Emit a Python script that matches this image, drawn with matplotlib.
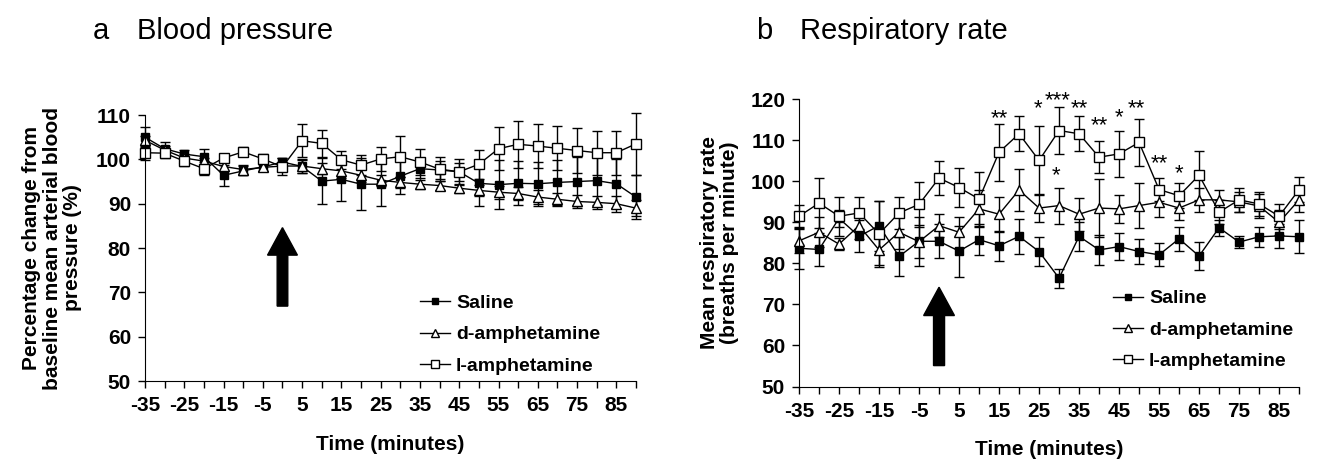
import matplotlib.pyplot as plt
import numpy as np

plt.rcParams['font.family'] = ['Liberation Sans', 'DejaVu Sans']

# Time points (minutes)
time = np.arange(-35, 95, 5)
series_names = ['Saline', 'd-amphetamine', 'l-amphetamine']

# a  Blood pressure (% of baseline)
bp_saline = [105.0, 102.4, 101.2, 100.6, 96.4, 97.4, 98.3, 99.4, 98.4, 95.1, 95.5, 94.4, 94.4,
             96.2, 97.9, 97.6, 97.2, 94.6, 94.3, 94.6, 94.5, 94.8, 95.0, 95.2, 94.5, 91.5]
bp_saline_err = [2.3, 1.5, 1.0, 1.7, 2.3, 1.0, 1.0, 1.0, 1.5, 5.2, 5.0, 5.8, 5.0,
                 3.9, 2.0, 2.0, 2.0, 5.2, 5.5, 5.0, 5.0, 5.0, 5.5, 5.5, 5.5, 5.0]
bp_d = [104.3, 102.1, 100.3, 99.6, 98.4, 97.7, 98.2, 98.5, 98.5, 97.9, 97.4, 96.4, 95.3,
        94.8, 94.4, 94.1, 93.5, 93.0, 92.6, 92.3, 91.5, 91.0, 90.5, 90.3, 90.0, 89.0]
bp_d_err = [1.0, 1.0, 0.8, 0.8, 1.0, 1.0, 0.8, 1.0, 1.5, 1.2, 1.5, 1.5, 1.2,
            1.2, 1.0, 1.0, 1.0, 1.2, 1.5, 1.5, 1.5, 1.5, 1.5, 1.5, 1.8, 1.8]
bp_l = [101.5, 101.4, 99.6, 97.9, 100.3, 101.7, 100.1, 98.3, 104.2, 103.6, 99.9, 98.7, 100.1,
        100.6, 99.4, 97.8, 97.2, 98.9, 102.4, 103.4, 103.0, 102.5, 102.0, 101.5, 101.5, 103.5]
bp_l_err = [1.6, 1.0, 1.0, 1.5, 1.0, 1.0, 1.0, 1.9, 3.7, 3.1, 2.1, 2.3, 2.8,
            4.6, 3.0, 2.7, 2.9, 3.3, 4.8, 5.3, 5.0, 5.0, 5.0, 5.0, 5.0, 7.0]

# b  Respiratory rate (breaths per minute)
rr_saline = [83.7, 83.4, 91.0, 86.6, 89.2, 81.7, 85.4, 85.4, 83.0, 85.8, 84.3, 86.6, 82.9,
             76.4, 86.6, 83.3, 84.1, 82.9, 82.1, 86.0, 81.8, 88.7, 85.2, 86.5, 86.7, 86.5]
rr_saline_err = [5.1, 4.1, 2.0, 3.9, 6.1, 4.7, 6.0, 4.1, 6.2, 3.7, 3.6, 4.2, 3.6,
                 2.3, 3.5, 3.7, 3.3, 3.0, 2.8, 3.0, 3.5, 2.0, 1.5, 2.5, 3.0, 4.0]
rr_d = [85.5, 87.6, 84.7, 89.2, 83.3, 87.6, 85.3, 89.2, 87.6, 93.3, 92.0, 97.9, 93.5,
        94.1, 92.0, 93.5, 93.3, 94.1, 94.9, 93.5, 95.5, 95.5, 95.0, 94.0, 90.0, 95.5]
rr_d_err = [3.0, 3.7, 1.5, 3.3, 3.8, 4.0, 4.0, 2.8, 3.8, 4.5, 4.3, 5.0, 3.4,
            4.4, 4.0, 7.0, 3.5, 5.4, 3.5, 3.0, 3.0, 2.5, 2.5, 3.0, 3.0, 3.0]
rr_l = [91.5, 94.7, 91.5, 92.3, 87.2, 92.3, 94.4, 100.8, 98.5, 95.7, 107.1, 111.6, 105.1,
        112.4, 111.6, 105.9, 106.7, 109.5, 98.0, 96.5, 101.5, 92.5, 95.5, 94.5, 91.5, 98.0]
rr_l_err = [2.8, 6.1, 4.8, 4.0, 8.1, 4.0, 5.4, 4.1, 4.7, 6.5, 6.9, 4.3, 8.5,
            5.7, 4.3, 3.9, 5.6, 5.8, 2.8, 3.0, 6.0, 3.0, 3.0, 3.0, 3.0, 3.0]

# significance marks
sig_time = [15, 24.7, 29.6, 35, 40, 45, 49.3, 55, 60, 29.3]
sig_y = [116.8, 119.3, 121.1, 119.3, 115.2, 117.1, 119.3, 105.9, 103.5, 102.8]
sig_text = ['**', '*', '***', '**', '**', '*', '**', '**', '*', '*']

fig = plt.figure(figsize=(13.17, 4.65), dpi=100)
ax1 = fig.add_axes([0.1101, 0.1806, 0.3728, 0.572])
ax2 = fig.add_axes([0.6067, 0.1688, 0.3797, 0.6176])


def draw_series(ax, y, err, marker, face, ms):
    cont = ax.errorbar(time, y, yerr=err, color='black', lw=1.0, elinewidth=1.0,
                       capsize=3.6, capthick=1.0, marker=marker, markersize=ms,
                       markerfacecolor=face, markeredgecolor='black',
                       markeredgewidth=1.0, clip_on=False)
    return cont[0]


def add_legend(ax, handles, anchor):
    ax.legend(handles, series_names, loc='upper left', bbox_to_anchor=anchor,
              frameon=False, prop=dict(size=14, weight='bold'), handlelength=1.55,
              handletextpad=0.3, labelspacing=0.7, markerscale=0.8,
              borderaxespad=0, borderpad=0)


for ax in (ax1, ax2):
    ax.spines['top'].set_visible(False)
    ax.spines['right'].set_visible(False)
    ax.set_xlim(-35, 90)
    ax.set_xticks(time)
    ax.set_xticklabels([str(t) if i % 2 == 0 else '' for i, t in enumerate(time)])
    ax.tick_params(axis='both', direction='out', length=5, width=1.0, labelsize=15)
    ax.tick_params(axis='x', pad=6)
    ax.tick_params(axis='y', pad=5)
    ax.set_xlabel('Time (minutes)', fontsize=15, fontweight='bold', labelpad=14)

# panel a
h1 = [draw_series(ax1, bp_saline, bp_saline_err, 's', 'black', 5.8),
      draw_series(ax1, bp_d, bp_d_err, '^', 'white', 6.5),
      draw_series(ax1, bp_l, bp_l_err, 's', 'white', 7.2)]
ax1.set_ylim(50, 110)
ax1.set_yticks(np.arange(50, 111, 10))
ax1.set_ylabel('Percentage change from\nbaseline mean arterial blood\npressure (%)',
               fontsize=15, fontweight='bold', labelpad=10, linespacing=1.1)
ax1.arrow(0, 66.9, 0, 17.7, width=2.7, head_width=7.6, head_length=6.2,
          length_includes_head=True, color='black')
add_legend(ax1, h1, (0.56, 0.325))

# panel b
h2 = [draw_series(ax2, rr_saline, rr_saline_err, 's', 'black', 5.8),
      draw_series(ax2, rr_d, rr_d_err, '^', 'white', 6.5),
      draw_series(ax2, rr_l, rr_l_err, 's', 'white', 7.2)]
ax2.set_ylim(50, 120)
ax2.set_yticks(np.arange(50, 121, 10))
ax2.set_ylabel('Mean respiratory rate\n(breaths per minute)',
               fontsize=15, fontweight='bold', labelpad=8, linespacing=1.1)
ax2.arrow(0, 55.1, 0, 19.1, width=2.75, head_width=7.7, head_length=6.9,
          length_includes_head=True, color='black')
for t, yv, s in zip(sig_time, sig_y, sig_text):
    ax2.annotate(s, (t, yv), xytext=(0, -4.5), textcoords='offset points',
                 ha='center', va='center', fontsize=16, annotation_clip=False)
add_legend(ax2, h2, (0.628, 0.337))

for ax in (ax1, ax2):
    for lab in ax.get_xticklabels() + ax.get_yticklabels():
        lab.set_fontweight('bold')

fig.text(93 / 1317, 1 - 39 / 465, 'a', fontsize=21, va='baseline', ha='left')
fig.text(137 / 1317, 1 - 39 / 465, 'Blood pressure', fontsize=21, va='baseline', ha='left')
fig.text(756 / 1317, 1 - 39 / 465, 'b', fontsize=21, va='baseline', ha='left')
fig.text(800 / 1317, 1 - 39 / 465, 'Respiratory rate', fontsize=21, va='baseline', ha='left')

fig.savefig('out.png', dpi=100)
